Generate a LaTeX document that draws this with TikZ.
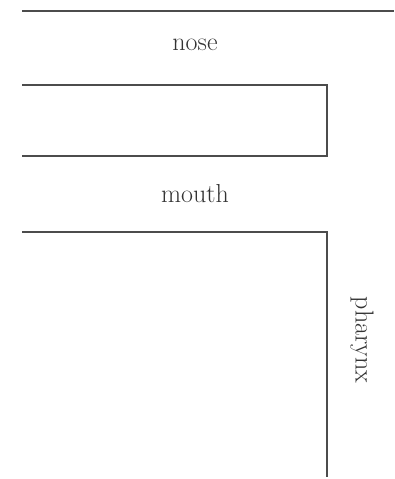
\documentclass[tikz,border=0pt]{standalone}
\begin{document}
\begin{tikzpicture}[x=1pt,y=-1pt,
  wall/.style={draw=black!70,line width=1.6pt},
  lbl/.style={font=\fontsize{26}{30}\selectfont,text=black!80,inner sep=0pt}]
\useasboundingbox (0,0) rectangle (394,479);
\coordinate (t1) at (22,11);
\coordinate (t2) at (394,11);
\draw[wall] (t1) -- (t2);
\node[lbl] (nose) at (195,45) {nose};
\coordinate (n1) at (22,85);
\coordinate (n2) at (327,85);
\coordinate (n3) at (327,156);
\coordinate (n4) at (22,156);
\draw[wall] (n1) -- (n2) -- (n3) -- (n4);
\node[lbl] (mouth) at (195,194) {mouth};
\coordinate (m1) at (22,232);
\coordinate (m2) at (327,232);
\coordinate (m3) at (327,477);
\draw[wall] (m1) -- (m2) -- (m3);
\node[lbl,rotate=-90] (pharynx) at (362,340) {pharynx};
\end{tikzpicture}
\end{document}
